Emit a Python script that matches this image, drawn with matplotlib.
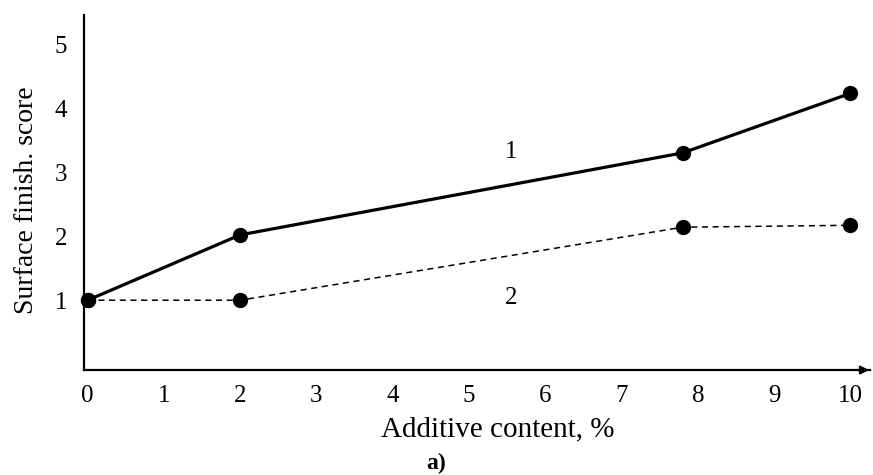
import numpy as np
import matplotlib.pyplot as plt

plt.rcParams['font.family'] = ['Liberation Serif', 'DejaVu Serif']

# additive content, % and surface finish score
content = [0, 2, 7.8, 10]
score_1 = [1.0, 2.02, 3.3, 4.23]
score_2 = [1.0, 1.0, 2.14, 2.17]
x_ticks = [0, 1, 2, 3, 4, 5, 6, 7, 8, 9, 10]
y_ticks = [1, 2, 3, 4, 5]

fig = plt.figure(figsize=(8.73, 4.75), dpi=100)
ax = fig.add_axes([0.096, 0.221, 0.9, 0.747])

ax.plot(content, score_1, 'k-', lw=2.3, marker='o', ms=10, clip_on=False, zorder=3)
ax.plot(content, score_2, 'k--', lw=1.1, dashes=(4, 3), marker='o', ms=10,
        clip_on=False, zorder=3)

ax.text(5.55, 3.31, '1', fontsize=18, ha='center', va='center')
ax.text(5.55, 1.03, '2', fontsize=18, ha='center', va='center')

ax.set_xlim(-0.05, 10.25)
ax.set_ylim(-0.09, 5.45)
ax.set_xticks(x_ticks)
ax.set_yticks(y_ticks)
ax.tick_params(length=0, labelsize=18)
ax.tick_params(axis='y', pad=12)
ax.tick_params(axis='x', pad=11)

for s in ['top', 'right']:
    ax.spines[s].set_visible(False)
ax.spines['left'].set_linewidth(1.6)
ax.spines['bottom'].set_linewidth(1.6)

# small arrow head at the end of the x axis
ax.annotate('', xy=(1.003, 0), xytext=(0.985, 0), xycoords='axes fraction',
            arrowprops=dict(arrowstyle='-|>', color='k', lw=1.6, mutation_scale=12),
            annotation_clip=False)

ax.set_xlabel('Additive content, %', fontsize=21)
ax.xaxis.set_label_coords(0.527, -0.132)
ax.set_ylabel('Surface finish. score', fontsize=20)
ax.yaxis.set_label_coords(-0.057, 0.479)
fig.text(0.5, 0.012, 'a)', fontsize=17, fontweight='bold', ha='center')

fig.savefig('out.png', dpi=100)
